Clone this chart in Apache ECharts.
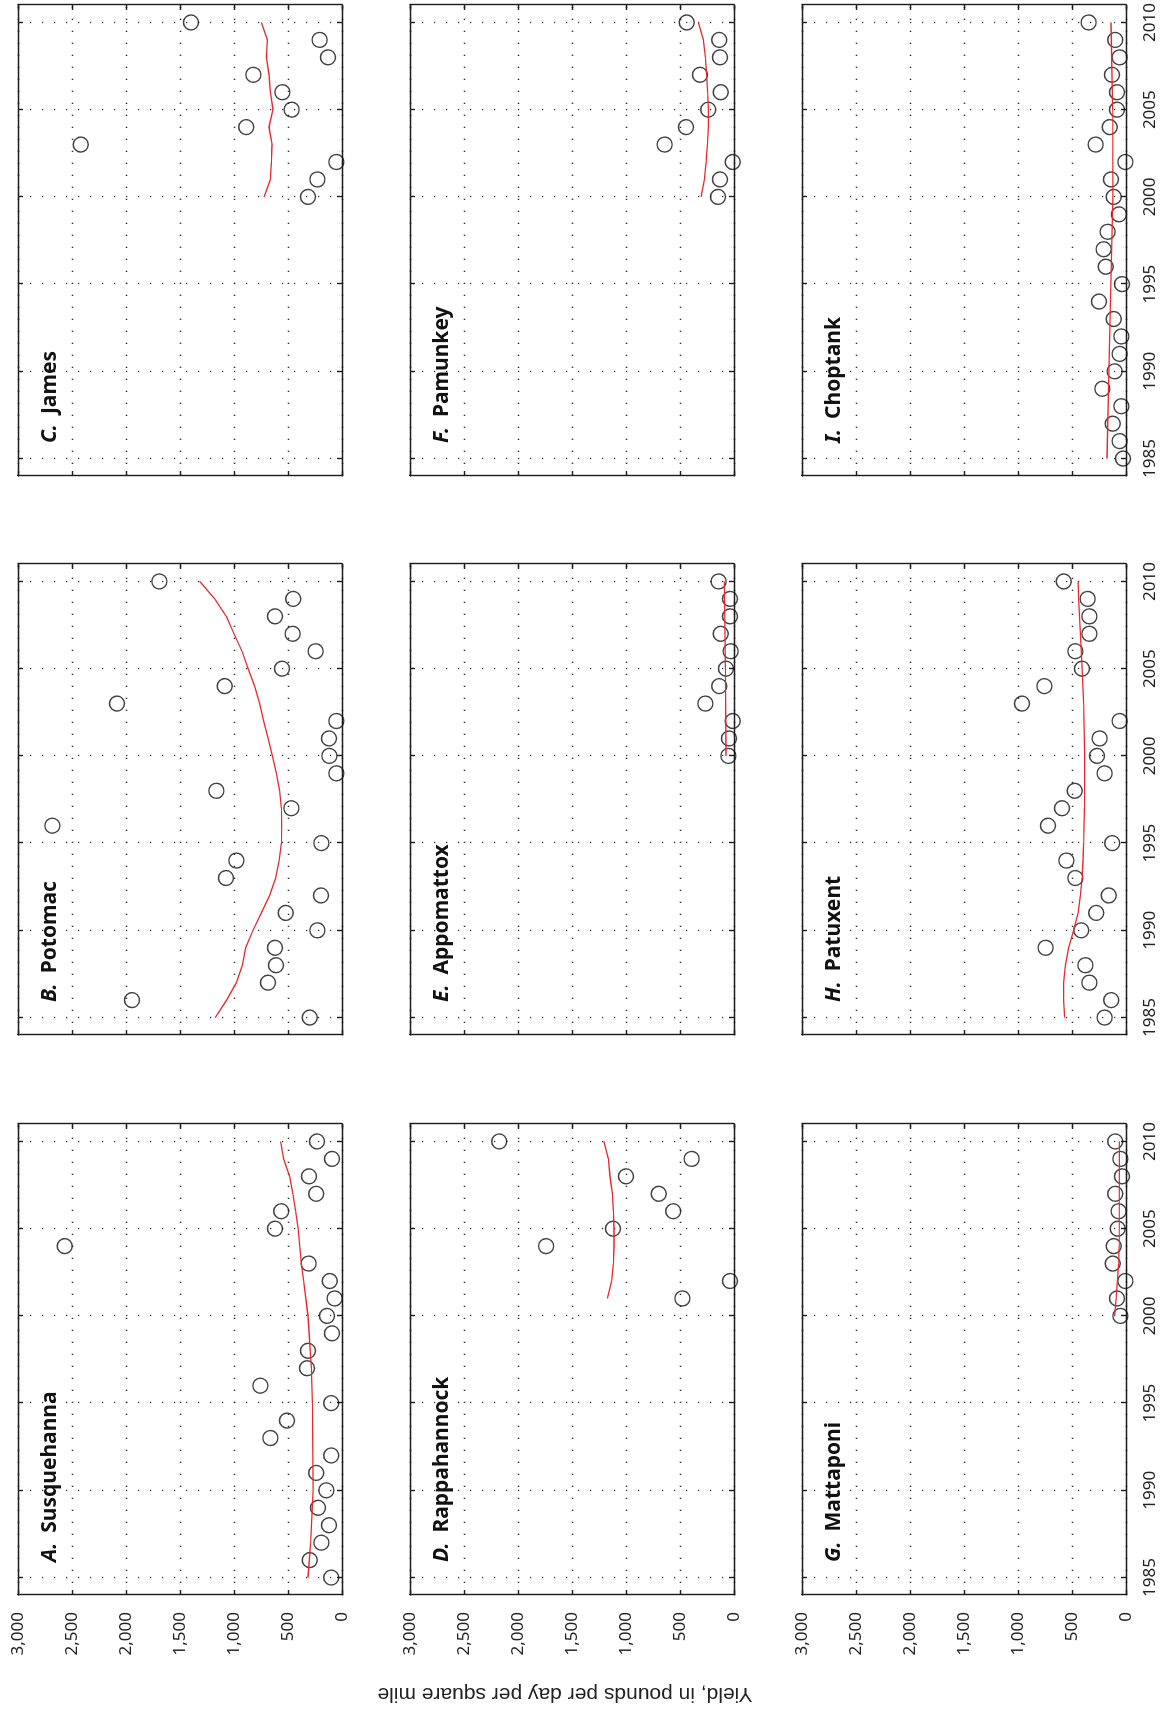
<!DOCTYPE html>
<html>
<head>
<meta charset="utf-8">
<script src="https://cdn.jsdelivr.net/npm/echarts@6/dist/echarts.min.js"></script>
<style>
  html, body { margin: 0; padding: 0; background: #fff; width: 1164px; height: 1711px; overflow: hidden; }
  /* The figure is laid out in landscape and turned a quarter turn counterclockwise onto the portrait page. */
  #chart { position: absolute; left: 0; top: 0; width: 1711px; height: 1164px;
           transform-origin: 0 0; transform: translateY(1711px) rotate(-90deg); }
</style>
</head>
<body>
<div id="chart"></div>
<script>
// ---- Years ----
const yearsFull = [1985, 1986, 1987, 1988, 1989, 1990, 1991, 1992, 1993, 1994, 1995, 1996, 1997,
                   1998, 1999, 2000, 2001, 2002, 2003, 2004, 2005, 2006, 2007, 2008, 2009, 2010];
const years2000 = [2000, 2001, 2002, 2003, 2004, 2005, 2006, 2007, 2008, 2009, 2010];
const yearsRappahannock = [2001, 2002, 2004, 2005, 2006, 2007, 2008, 2009, 2010];

// ---- Annual yields, pounds per day per square mile ----
const susquehannaYield = [99, 299, 191, 120, 222, 145, 238, 99, 663, 509, 99, 756, 324,
                          315, 93, 139, 68, 114, 309, 2567, 620, 562, 238, 306, 93, 231];
const potomacYield = [299, 1944, 685, 611, 620, 228, 521, 194, 1074, 978, 191, 2682, 469,
                      1163, 52, 117, 120, 52, 2083, 1086, 555, 244, 457, 620, 451, 1691];
const jamesYield = [315, 228, 52, 2419, 886, 466, 552, 821, 130, 207, 1398];
const rappahannockYield = [478, 37, 1740, 1120, 562, 697, 1000, 392, 2173];
const appomattoxYield = [52, 46, 12, 265, 136, 74, 31, 123, 37, 37, 142];
const pamunkeyYield = [148, 130, 12, 642, 444, 238, 123, 315, 130, 136, 438];
const mattaponiYield = [52, 83, 6, 123, 114, 77, 68, 99, 37, 52, 99];
const patuxentYield = [198, 136, 339, 376, 744, 414, 275, 160, 469, 552, 127, 722, 593,
                       475, 198, 268, 244, 59, 963, 756, 407, 469, 339, 339, 355, 577];
const choptankYield = [28, 59, 123, 43, 219, 105, 59, 43, 114, 250, 37, 188, 207,
                       170, 65, 114, 139, 6, 281, 151, 83, 83, 130, 59, 99, 346];

// ---- Smoothed trends ----
const susquehannaTrendYears = [1985, 1987, 1990, 1995, 1997, 2000, 2002, 2003, 2005, 2006, 2007, 2008, 2009, 2010];
const susquehannaTrend = [315, 290, 268, 275, 284, 315, 355, 376, 407, 429, 454, 485, 540, 568];
const potomacTrend = [1173, 1068, 978, 923, 892, 824, 747, 670, 614, 583, 562, 559, 562,
                      577, 608, 645, 685, 725, 762, 809, 870, 926, 1000, 1071, 1179, 1318];
const jamesTrend = [722, 663, 654, 648, 676, 639, 663, 676, 700, 691, 747];
const rappahannockTrendYears = [2001, 2002, 2003, 2004, 2005, 2006, 2007, 2008, 2009, 2010];
const rappahannockTrend = [1173, 1133, 1117, 1111, 1111, 1117, 1126, 1148, 1163, 1204];
const appomattoxTrendYears = [2000, 2005, 2010];
const appomattoxTrend = [74, 80, 89];
const pamunkeyTrend = [305, 275, 259, 247, 238, 238, 244, 253, 265, 284, 330];
const mattaponiTrendYears = [2000, 2001, 2002, 2003, 2004, 2010];
const mattaponiTrend = [105, 92, 80, 68, 63, 62];
const patuxentTrendYears = [1985, 1986, 1987, 1988, 1989, 1990, 1991, 1992, 1993, 1994, 1995,
                            1997, 2000, 2003, 2005, 2007, 2009, 2010];
const patuxentTrend = [568, 577, 577, 562, 531, 485, 444, 423, 407, 398, 392, 386, 383, 392, 407, 423, 438, 444];
const choptankTrendYears = [1985, 1990, 1995, 2000, 2005, 2010];
const choptankTrend = [176, 158, 140, 122, 124, 139];

// ---- Axes ----
const yearMin = 1984, yearMax = 2011;
const yearTicks = [1985, 1990, 1995, 2000, 2005, 2010];
const yieldMin = 0, yieldMax = 3000, yieldStep = 500;
const yieldTitle = 'Yield, in pounds per day per square mile';

const panels = [
  { letter: 'A.', name: 'Susquehanna',  years: yearsFull,         values: susquehannaYield,  trendYears: susquehannaTrendYears,  trend: susquehannaTrend },
  { letter: 'B.', name: 'Potomac',      years: yearsFull,         values: potomacYield,      trendYears: yearsFull,              trend: potomacTrend },
  { letter: 'C.', name: 'James',        years: years2000,         values: jamesYield,        trendYears: years2000,              trend: jamesTrend },
  { letter: 'D.', name: 'Rappahannock', years: yearsRappahannock, values: rappahannockYield, trendYears: rappahannockTrendYears, trend: rappahannockTrend },
  { letter: 'E.', name: 'Appomattox',   years: years2000,         values: appomattoxYield,   trendYears: appomattoxTrendYears,   trend: appomattoxTrend },
  { letter: 'F.', name: 'Pamunkey',     years: years2000,         values: pamunkeyYield,     trendYears: years2000,              trend: pamunkeyTrend },
  { letter: 'G.', name: 'Mattaponi',    years: years2000,         values: mattaponiYield,    trendYears: mattaponiTrendYears,    trend: mattaponiTrend },
  { letter: 'H.', name: 'Patuxent',     years: yearsFull,         values: patuxentYield,     trendYears: patuxentTrendYears,     trend: patuxentTrend },
  { letter: 'I.', name: 'Choptank',     years: yearsFull,         values: choptankYield,     trendYears: choptankTrendYears,     trend: choptankTrend }
];

// ---- Layout (landscape pixels) ----
const COL_LEFT = [116, 676, 1235];
const ROW_TOP = [18, 410, 802];
const PANEL_W = 471, PANEL_H = 324;
// Condensed faces are picked through font-stretch carried in the weight slot of the canvas font string.
const COND_FAMILY = "'Noto Sans', 'DejaVu Sans', 'Liberation Sans', sans-serif";
const frameLine = { color: '#1c1c1c', width: 1.4 };
const dotLine = { color: '#2e2e2e', width: 1.3, type: [1.3, 10.7] };
const tickFont = { fontSize: 17, fontWeight: 'normal condensed', fontFamily: COND_FAMILY, color: '#222' };

const grids = [], xAxes = [], yAxes = [], series = [], titles = [];

panels.forEach((p, i) => {
  const row = Math.floor(i / 3), col = i % 3;
  grids.push({ left: COL_LEFT[col], top: ROW_TOP[row], width: PANEL_W, height: PANEL_H });

  const xCommon = {
    type: 'value', gridIndex: i, min: yearMin, max: yearMax,
    axisLine: { show: true, onZero: false, lineStyle: frameLine },
    axisTick: { show: true, inside: true, length: 5, customValues: yearTicks, lineStyle: frameLine }
  };
  xAxes.push(Object.assign({}, xCommon, {
    position: 'bottom',
    axisLabel: Object.assign({ show: row === 2, customValues: yearTicks, margin: 16,
                               formatter: v => String(v) }, tickFont),
    splitLine: { show: true, lineStyle: dotLine }
  }));
  xAxes.push(Object.assign({}, xCommon, {
    position: 'top', axisLabel: { show: false }, splitLine: { show: false }
  }));

  const yCommon = {
    type: 'value', gridIndex: i, min: yieldMin, max: yieldMax, interval: yieldStep,
    axisLine: { show: true, onZero: false, lineStyle: frameLine },
    axisTick: { show: true, inside: true, length: 5, lineStyle: frameLine }
  };
  yAxes.push(Object.assign({}, yCommon, {
    position: 'left',
    axisLabel: Object.assign({ show: col === 0, margin: 17,
                               formatter: v => v.toLocaleString('en-US') }, tickFont),
    splitLine: { show: true, lineStyle: dotLine }
  }));
  yAxes.push(Object.assign({}, yCommon, {
    position: 'right', axisLabel: { show: false }, splitLine: { show: false }
  }));

  series.push({
    type: 'scatter', xAxisIndex: 2 * i, yAxisIndex: 2 * i,
    data: p.years.map((y, k) => [y, p.values[k]]),
    symbol: 'circle', symbolSize: 15, silent: true, z: 3,
    itemStyle: { color: 'rgba(0,0,0,0)', borderColor: '#111', borderWidth: 1.4 }
  });
  series.push({
    type: 'line', xAxisIndex: 2 * i, yAxisIndex: 2 * i,
    data: p.trendYears.map((y, k) => [y, p.trend[k]]),
    showSymbol: false, silent: true, z: 4,
    lineStyle: { color: '#e8262b', width: 1.3 }
  });

  titles.push({
    left: COL_LEFT[col] + 33, top: ROW_TOP[row] + 22, padding: 0,
    text: '{l|' + p.letter + '}  {n|' + p.name + '}',
    textStyle: {
      rich: {
        l: { fontSize: 21, fontWeight: 'bold condensed', fontStyle: 'italic', fontFamily: COND_FAMILY, color: '#111' },
        n: { fontSize: 21, fontWeight: 'bold condensed', fontFamily: COND_FAMILY, color: '#111' }
      }
    }
  });
});

const chart = echarts.init(document.getElementById('chart'), null, { renderer: 'canvas' });
chart.setOption({
  animation: false,
  backgroundColor: '#fff',
  title: titles,
  grid: grids,
  xAxis: xAxes,
  yAxis: yAxes,
  series: series,
  graphic: [{
    type: 'text', x: 17, y: 565, rotation: Math.PI / 2,
    style: { text: yieldTitle, font: '21px "Liberation Sans", Arial, sans-serif',
             fill: '#222', align: 'center', verticalAlign: 'middle' }
  }]
});
</script>
</body>
</html>
